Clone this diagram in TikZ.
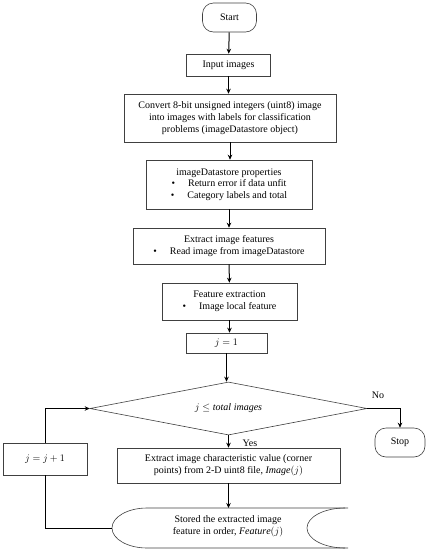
\documentclass[tikz,border=0pt]{standalone}
\usepackage{fontspec}
\setmainfont{Liberation Serif}
\usetikzlibrary{shapes.geometric,arrows.meta}
\begin{document}
\begin{tikzpicture}[x=1pt,y=1pt,
  txt/.style={font=\fontsize{10}{11.7}\selectfont, align=center},
  box/.style={txt, draw=black!75, line width=0.6pt, inner sep=2pt},
  term/.style={box, rounded corners=11pt},
  decision/.style={box, diamond, aspect=5.2, inner sep=0pt},
  conn/.style={line width=1pt, -{Stealth[length=5pt,width=4.5pt]}},
  plain/.style={line width=1pt},
  outline/.style={draw=black!75, line width=0.6pt},
  lbl/.style={txt, inner sep=0pt}]
\useasboundingbox (0,0) rectangle (434,-550);

\node[term, minimum width=54, minimum height=29] (start) at (229.5,-17.5) {Start};
\node[box, minimum width=84, minimum height=22] (input) at (228.5,-65) {Input images};
\node[box, minimum width=212, minimum height=48] (convert) at (230,-118)
  {Convert 8-bit unsigned integers (uint8) image\\into images with labels for classification\\problems (imageDatastore object)};
\node[box, minimum width=166, minimum height=49] (props) at (229,-184.5)
  {imageDatastore properties\\\textbullet\hspace{1.3em}Return error if data unfit\\\textbullet\hspace{1.3em}Category labels and total};
\node[box, minimum width=192, minimum height=36] (features) at (229,-246)
  {Extract image features\\\textbullet\hspace{1.3em}Read image from imageDatastore};
\node[box, minimum width=135, minimum height=37] (fextract) at (229.5,-301.5)
  {Feature extraction\\\textbullet\hspace{1.3em}Image local feature};
\node[box, minimum width=81, minimum height=20] (jone) at (226.5,-343) {$j = 1$};
\node[decision, minimum width=277, minimum height=53] (dec) at (228.5,-408.5)
  {$j \leq \mathit{total\ images}$};
\node[term, minimum width=50, minimum height=29] (stop) at (400,-442.5) {Stop};
\node[lbl] (no) at (378,-395) {No};
\node[lbl] (yes) at (250,-443) {Yes};
\node[box, minimum width=223, minimum height=35] (extract) at (228.5,-465.5)
  {Extract image characteristic value (corner\\points) from 2-D uint8 file, $\mathit{Image}(j)$};
\node[box, minimum width=84, minimum height=32] (jinc) at (45,-459) {$j = j + 1$};

% stored data shape
\node[lbl] (stored) at (228,-526)
  {Stored the extracted image\\feature in order, $\mathit{Feature}(j)$};
\coordinate (storedtop) at (228.5,-508);
\coordinate (storedleft) at (112,-528);
\draw[outline] (348,-508) -- (147,-508)
  arc[start angle=90, end angle=270, x radius=35, y radius=20] -- (348,-548);
\draw[outline] (345,-508) arc[start angle=90, end angle=270, x radius=38, y radius=20];

% connectors
\draw[conn] (start) -- (input);
\draw[conn] (input.south) -- (input.south |- convert.north);
\draw[conn] (convert.south) -- (convert.south |- props.north);
\draw[conn] (props) -- (features);
\draw[conn] (features) -- (fextract);
\draw[conn] (fextract.south) -- (fextract.south |- jone.north);
\draw[conn] (jone.south) -- (jone.south |- dec.north);
\draw[conn] (dec.east) -| (stop.north);
\draw[conn] (dec.south) -- (dec.south |- extract.north);
\draw[conn] (extract.south) -- (extract.south |- storedtop);
\draw[plain] (storedleft) -| (jinc.south);
\draw[conn] (jinc.north) |- (dec.west);
\end{tikzpicture}
\end{document}
